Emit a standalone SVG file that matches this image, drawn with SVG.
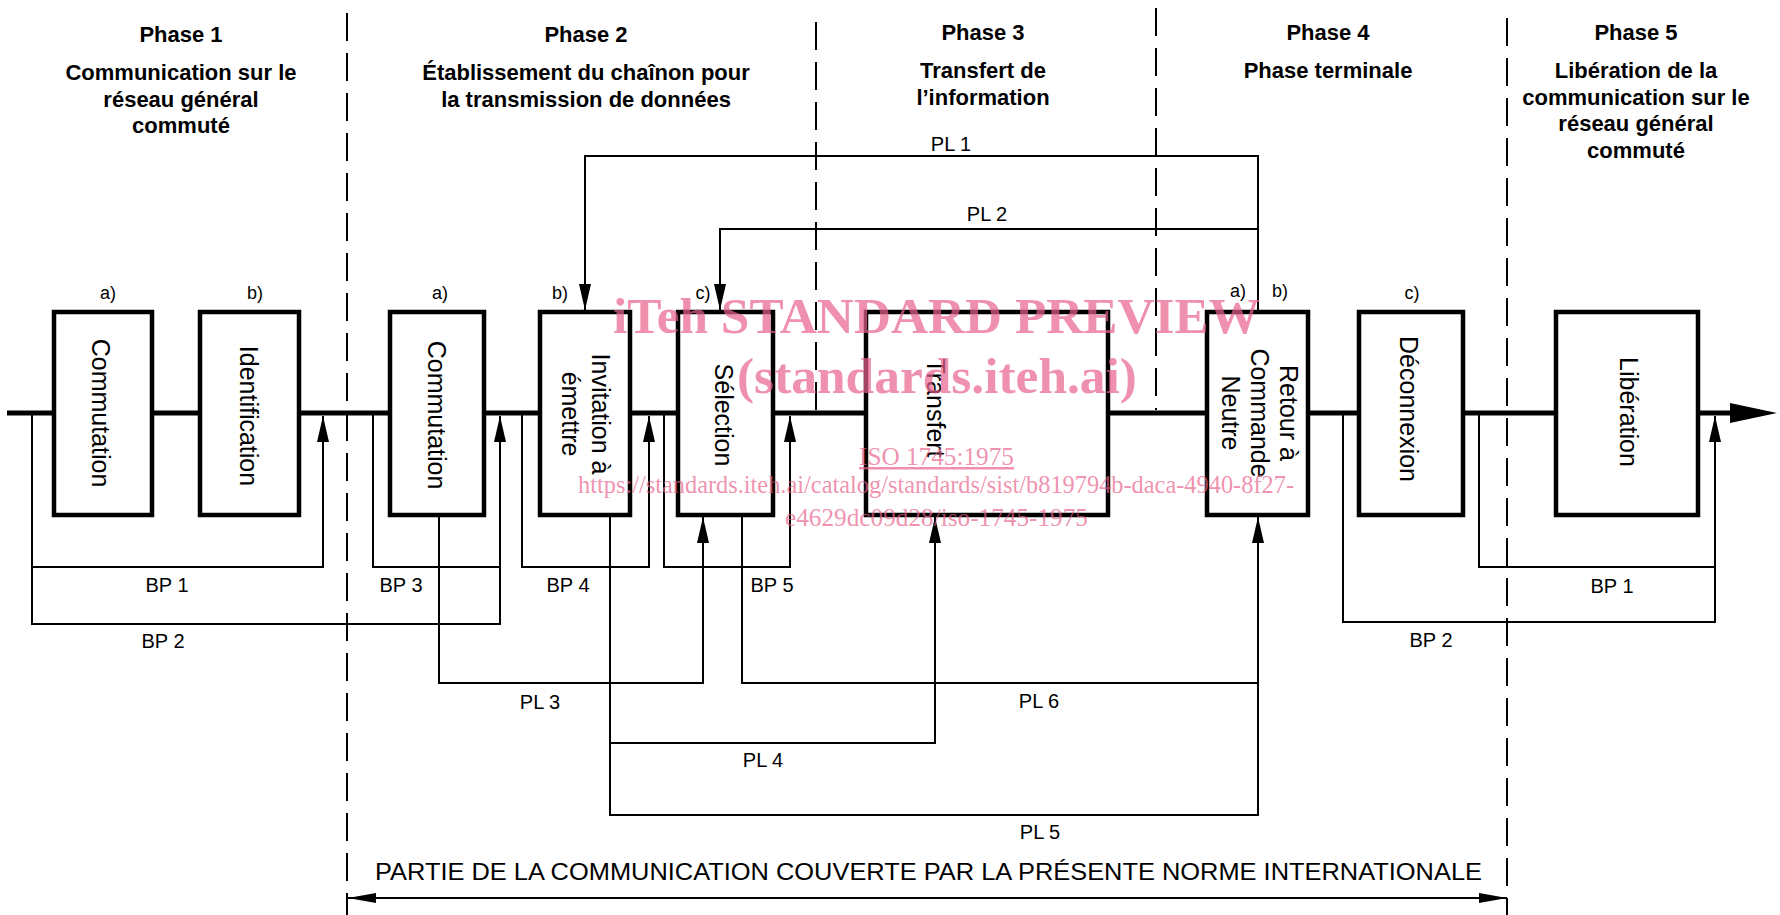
<svg xmlns="http://www.w3.org/2000/svg" width="1780" height="915" viewBox="0 0 1780 915">
<defs>
<marker id="ah" markerUnits="userSpaceOnUse" markerWidth="26" markerHeight="12" refX="26" refY="6" orient="auto"><path d="M0,0 L26,6 L0,12 z" fill="#000"/></marker>
<marker id="ab" markerUnits="userSpaceOnUse" markerWidth="28" markerHeight="10" refX="28" refY="5" orient="auto-start-reverse"><path d="M0,0 L28,5 L0,10 z" fill="#000"/></marker>
</defs>
<style>
.h{font-family:"Liberation Sans",Arial,sans-serif;font-weight:bold;font-size:22px;text-anchor:middle;fill:#000}
.t{font-family:"Liberation Sans",Arial,sans-serif;font-size:25px;text-anchor:middle;fill:#000}
.l{font-family:"Liberation Sans",Arial,sans-serif;font-size:18px;text-anchor:middle;fill:#000}
.c{font-family:"Liberation Sans",Arial,sans-serif;font-size:20px;text-anchor:middle;fill:#000}
.box{fill:#fff;stroke:#000;stroke-width:4.5}
.ln{fill:none;stroke:#000;stroke-width:2}
.arr{marker-end:url(#ah)}
.dash{fill:none;stroke:#000;stroke-width:2;stroke-dasharray:28 12}
.main{fill:none;stroke:#000;stroke-width:5}
.wm{font-family:"Liberation Serif","Times New Roman",serif;fill:#e8628c;fill-opacity:0.7}
</style>
<rect width="1780" height="915" fill="#fff"/>

<g id="phase-separators">
<path class="dash" d="M347,13 V915"/>
<path class="dash" d="M816,22 V410"/>
<path class="dash" d="M1156,8 V410"/>
<path class="dash" d="M1507,18 V915"/>
</g>

<g id="headings">
<text class="h" x="181" y="42">Phase 1</text>
<text class="h" x="181" y="80">Communication sur le</text>
<text class="h" x="181" y="107">réseau général</text>
<text class="h" x="181" y="133">commuté</text>
<text class="h" x="586" y="42">Phase 2</text>
<text class="h" x="586" y="80">Établissement du chaînon pour</text>
<text class="h" x="586" y="107">la transmission de données</text>
<text class="h" x="983" y="40">Phase 3</text>
<text class="h" x="983" y="78">Transfert de</text>
<text class="h" x="983" y="105">l’information</text>
<text class="h" x="1328" y="40">Phase 4</text>
<text class="h" x="1328" y="78">Phase terminale</text>
<text class="h" x="1636" y="40">Phase 5</text>
<text class="h" x="1636" y="78">Libération de la</text>
<text class="h" x="1636" y="105">communication sur le</text>
<text class="h" x="1636" y="131">réseau général</text>
<text class="h" x="1636" y="158">commuté</text>
</g>

<g id="connectors">
<path class="ln arr" d="M32,414 V567 H323 V416"/>
<path class="ln arr" d="M32,567 V624 H500 V416"/>
<path class="ln" d="M373,414 V567 H500"/>
<path class="ln arr" d="M522,414 V567 H649 V416"/>
<path class="ln arr" d="M664,414 V567 H790 V416"/>
<path class="ln arr" d="M1258,312 V156 H585 V310"/>
<path class="ln arr" d="M1258,229 H720 V310"/>
<path class="ln arr" d="M439,517 V683 H703 V517"/>
<path class="ln arr" d="M610,517 V743 H935 V517"/>
<path class="ln arr" d="M610,743 V815 H1258 V517"/>
<path class="ln" d="M742,517 V683 H1258"/>
<path class="ln arr" d="M1479,414 V567 H1715 V416"/>
<path class="ln" d="M1343,414 V622 H1715 V567"/>
<path class="ln" d="M348,898 H1507" marker-start="url(#ab)" marker-end="url(#ab)"/>
<path class="main" d="M7,413 H1735"/>
<polygon points="1730,403 1777,413 1730,423" fill="#000"/>
</g>

<g id="labels">
<text class="c" x="167" y="592">BP 1</text>
<text class="c" x="163" y="648">BP 2</text>
<text class="c" x="401" y="592">BP 3</text>
<text class="c" x="568" y="592">BP 4</text>
<text class="c" x="772" y="592">BP 5</text>
<text class="c" x="1612" y="593">BP 1</text>
<text class="c" x="1431" y="647">BP 2</text>
<text class="c" x="951" y="151">PL 1</text>
<text class="c" x="987" y="221">PL 2</text>
<text class="c" x="540" y="709">PL 3</text>
<text class="c" x="763" y="767">PL 4</text>
<text class="c" x="1039" y="708">PL 6</text>
<text class="c" x="1040" y="839">PL 5</text>
<text class="l" x="108" y="299">a)</text>
<text class="l" x="255" y="299">b)</text>
<text class="l" x="440" y="299">a)</text>
<text class="l" x="560" y="299">b)</text>
<text class="l" x="703" y="299">c)</text>
<text class="l" x="1238" y="297">a)</text>
<text class="l" x="1280" y="297">b)</text>
<text class="l" x="1412" y="299">c)</text>
<text x="375" y="880" font-family="Liberation Sans, Arial, sans-serif" font-size="23" textLength="1107" lengthAdjust="spacingAndGlyphs">PARTIE DE LA COMMUNICATION COUVERTE PAR LA PRÉSENTE NORME INTERNATIONALE</text>
</g>

<g id="n1"><rect class="box" x="54" y="312" width="98" height="203"/><text class="t" transform="translate(92,413) rotate(90)">Commutation</text></g>
<g id="n2"><rect class="box" x="200" y="312" width="99" height="203"/><text class="t" transform="translate(240,416) rotate(90)">Identification</text></g>
<g id="n3"><rect class="box" x="390" y="312" width="94" height="203"/><text class="t" transform="translate(428,415) rotate(90)">Commutation</text></g>
<g id="n4"><rect class="box" x="540" y="312" width="90" height="203"/><text class="t" transform="translate(592,414) rotate(90)">Invitation à</text><text class="t" transform="translate(562,414) rotate(90)">émettre</text></g>
<g id="n5"><rect class="box" x="678" y="312" width="95" height="203"/><text class="t" transform="translate(715,415) rotate(90)">Sélection</text></g>
<g id="n6"><rect class="box" x="866" y="312" width="242" height="203"/><text class="t" transform="translate(927,408) rotate(90)">Transfert</text></g>
<g id="n7"><rect class="box" x="1207" y="312" width="101" height="203"/><text class="t" transform="translate(1280,413) rotate(90)">Retour à</text><text class="t" transform="translate(1251,413) rotate(90)">Commande</text><text class="t" transform="translate(1222,413) rotate(90)">Neutre</text></g>
<g id="n8"><rect class="box" x="1359" y="312" width="104" height="203"/><text class="t" transform="translate(1400,409) rotate(90)">Déconnexion</text></g>
<g id="n9"><rect class="box" x="1556" y="312" width="142" height="203"/><text class="t" transform="translate(1620,412) rotate(90)">Libération</text></g>

<g id="watermark">
<text class="wm" x="613" y="333" font-size="50" font-weight="bold" textLength="647" lengthAdjust="spacingAndGlyphs">iTeh STANDARD PREVIEW</text>
<text class="wm" x="737" y="393" font-size="50" font-weight="bold" textLength="400" lengthAdjust="spacingAndGlyphs">(standards.iteh.ai)</text>
<text class="wm" x="859" y="465" font-size="25" text-decoration="underline" textLength="155" lengthAdjust="spacingAndGlyphs">ISO 1745:1975</text>
<text class="wm" x="578" y="493" font-size="25" textLength="716" lengthAdjust="spacingAndGlyphs">https://standards.iteh.ai/catalog/standards/sist/b819794b-daca-4940-8f27-</text>
<text class="wm" x="785" y="526" font-size="25" textLength="303" lengthAdjust="spacingAndGlyphs">e4629dc09d28/iso-1745-1975</text>
</g>
</svg>
